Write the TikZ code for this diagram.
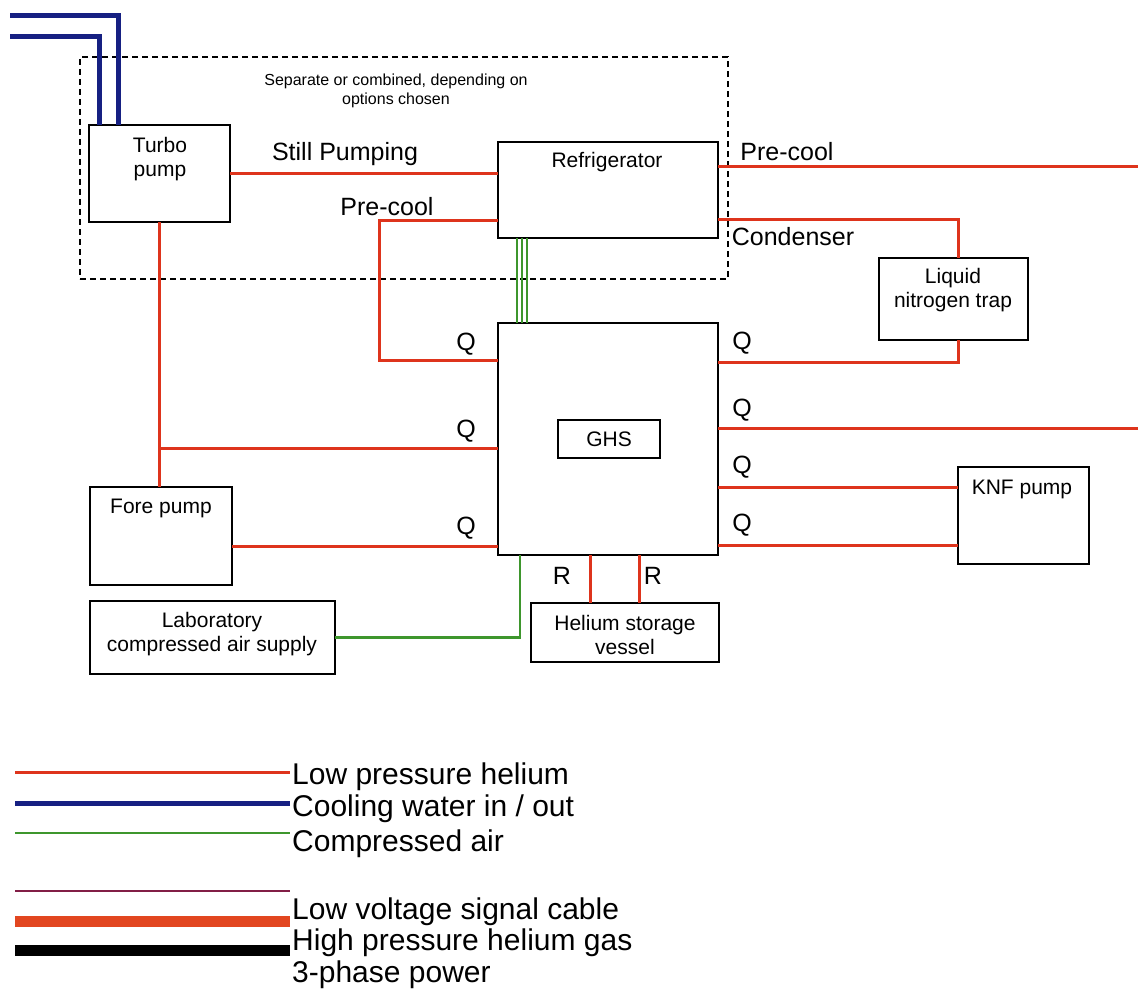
\documentclass[tikz,border=0pt]{standalone}
\usepackage{fontspec}
\setmainfont{Liberation Sans}
\definecolor{lpred}{RGB}{222,52,28}
\definecolor{cwblue}{RGB}{22,32,130}
\definecolor{cagreen}{RGB}{62,150,45}
\definecolor{sigpurple}{RGB}{130,30,70}
\definecolor{hpred}{RGB}{226,70,32}
\begin{document}
\begin{tikzpicture}[x=1pt,y=-1pt,
  lp/.style={draw=lpred, line width=3pt},
  cw/.style={draw=cwblue, line width=5pt},
  ca/.style={draw=cagreen, line width=2.8pt},
  cathin/.style={draw=cagreen, line width=1.3pt},
  box/.style={draw=black, line width=1.5pt, inner sep=0pt, outer sep=0pt},
  grp/.style={draw=black, line width=1.5pt, dash pattern=on 6pt off 4pt, inner sep=0pt, outer sep=0pt},
  lbl/.style={font=\fontsize{25}{30}\selectfont, inner sep=0pt},
  btxt/.style={font=\fontsize{21}{24}\selectfont, align=center, inner sep=0pt},
  smalltxt/.style={font=\fontsize{16}{19}\selectfont, align=center, inner sep=0pt},
  leg/.style={font=\fontsize{30}{36}\selectfont, anchor=base west, inner sep=0pt}]
\useasboundingbox (0,0) rectangle (1138,990);

% dashed group
\node[grp, minimum width=648pt, minimum height=222pt] (group) at (404,168) {};
\node[smalltxt] (grptxt) at (396,91) {Separate or combined, depending on\\options chosen};

% boxes
\node[box, minimum width=141pt, minimum height=97pt] (turbo) at (159.5,173.5) {};
\node[btxt] (turbotxt) at (160,159) {Turbo\\pump};
\node[box, minimum width=220pt, minimum height=96pt] (refrig) at (608,190) {};
\node[btxt] (refrigtxt) at (607,162) {Refrigerator};
\node[box, minimum width=220pt, minimum height=232pt] (ghs) at (608,439) {};
\node[box, minimum width=102pt, minimum height=38pt, btxt] (ghsin) at (609,439) {GHS};
\node[box, minimum width=149pt, minimum height=82pt] (trap) at (953.5,299) {};
\node[btxt] (traptxt) at (953,290) {Liquid\\nitrogen trap};
\node[box, minimum width=131pt, minimum height=97pt] (knf) at (1023.5,515.5) {};
\node[btxt] (knftxt) at (1022,489) {KNF pump};
\node[box, minimum width=142pt, minimum height=98pt] (fore) at (161,536) {};
\node[btxt] (foretxt) at (161,508) {Fore pump};
\node[box, minimum width=245pt, minimum height=73pt] (lab) at (212.5,637.5) {};
\node[btxt] (labtxt) at (212,634) {Laboratory\\compressed air supply};
\node[box, minimum width=188pt, minimum height=59pt] (he) at (625,632.5) {};
\node[btxt] (hetxt) at (625,635) {Helium storage\\vessel};

% free ends
\coordinate (pcR) at (1138,166);
\coordinate (qR) at (1138,428);
\coordinate (pcl) at (379,290);
\coordinate (cw1) at (10,16);
\coordinate (cw2) at (10,37);

% cooling water
\draw[cw] (cw1) -| ([xshift=-41.5pt]turbo.north);
\draw[cw] (cw2) -| ([xshift=-60.5pt]turbo.north);

% low pressure helium
\draw[lp] (turbo.east) -- (turbo.east -| refrig.west);
\draw[lp] ([yshift=24pt]refrig.east) -- (pcR);
\draw[lp] ([yshift=-29pt]refrig.east) -| ([xshift=4.5pt]trap.north);
\draw[lp] ([yshift=-30pt]refrig.west) -| (pcl) |- ([yshift=79pt]ghs.west);
\draw[lp] (turbo.south) -- (turbo.south |- fore.north);
\draw[lp] (turbo.south |- ghs.west) ++(0,9) -- ([yshift=-9pt]ghs.west);
\draw[lp] ([yshift=-10pt]fore.east) -- ([yshift=-10pt]fore.east -| ghs.west);
\draw[lp] ([yshift=77pt]ghs.east) -| ([xshift=4.5pt]trap.south);
\draw[lp] ([yshift=11pt]ghs.east) -- (qR);
\draw[lp] ([yshift=-48pt]ghs.east) -- ([yshift=-48pt]ghs.east -| knf.west);
\draw[lp] ([yshift=-106pt]ghs.east) -- ([yshift=-106pt]ghs.east -| knf.west);
\draw[lp] ([xshift=-18pt]ghs.south) -- ([xshift=-18pt]ghs.south |- he.north);
\draw[lp] ([xshift=31pt]ghs.south) -- ([xshift=31pt]ghs.south |- he.north);

% compressed air
\draw[ca] ([xshift=-88pt]ghs.south) |- (lab.east);
\draw[cathin] ([xshift=-91pt]refrig.south) -- ([xshift=-91pt]refrig.south |- ghs.north);
\draw[cathin] ([xshift=-86pt]refrig.south) -- ([xshift=-86pt]refrig.south |- ghs.north);
\draw[cathin] ([xshift=-81pt]refrig.south) -- ([xshift=-81pt]refrig.south |- ghs.north);

% labels
\node[lbl] (lstill) at (345,154) {Still Pumping};
\node[lbl] (lpcr) at (787,152) {Pre-cool};
\node[lbl] (lcond) at (793,237) {Condenser};
\node[lbl] (lpcl) at (387,207) {Pre-cool};
\node[lbl] (ql1) at (466,344) {Q};
\node[lbl] (ql2) at (466,431) {Q};
\node[lbl] (ql3) at (466,528) {Q};
\node[lbl] (qr1) at (742,343) {Q};
\node[lbl] (qr2) at (742,410) {Q};
\node[lbl] (qr3) at (742,467) {Q};
\node[lbl] (qr4) at (742,525) {Q};
\node[lbl] (r1) at (562,576) {R};
\node[lbl] (r2) at (653,576) {R};

% legend
\draw[lp] (15,772) -- (290,772);
\draw[cw] (15,803) -- (290,803);
\draw[ca] (15,833) -- (290,833);
\draw[draw=sigpurple, line width=1.5pt] (15,891) -- (290,891);
\draw[draw=hpred, line width=11pt] (15,921) -- (290,921);
\draw[draw=black, line width=11pt] (15,950) -- (290,950);
\node[leg] (leg1) at (292,784) {Low pressure helium};
\node[leg] (leg2) at (292,816) {Cooling water in / out};
\node[leg] (leg3) at (292,851) {Compressed air};
\node[leg] (leg4) at (292,919) {Low voltage signal cable};
\node[leg] (leg5) at (292,950) {High pressure helium gas};
\node[leg] (leg6) at (292,982) {3-phase power};
\end{tikzpicture}
\end{document}
